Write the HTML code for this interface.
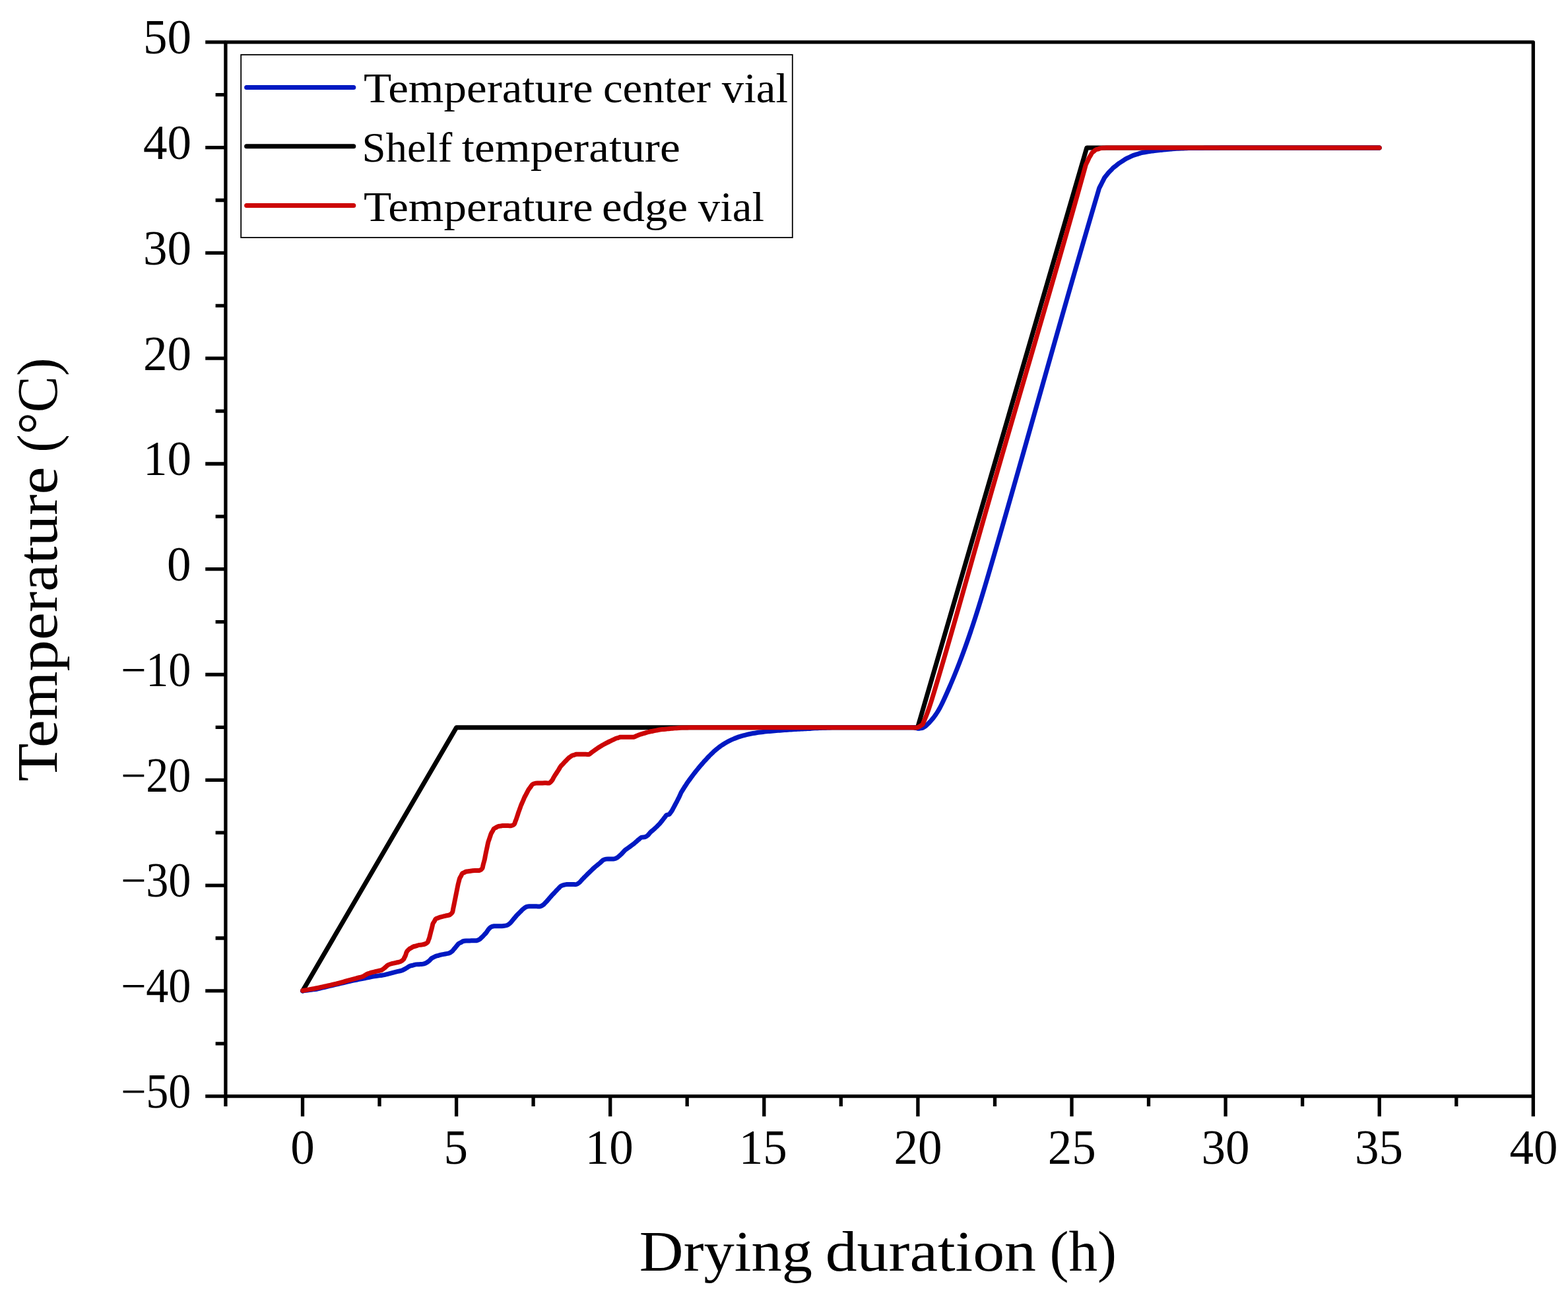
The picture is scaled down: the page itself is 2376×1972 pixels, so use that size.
<!DOCTYPE html>
<html><head><meta charset="utf-8"><title>Temperature vs drying duration</title><style>html,body{margin:0;padding:0;background:#fff;overflow:hidden}svg{display:block}</style></head><body>
<svg width="2376" height="1972" viewBox="0 0 2376 1972">
<rect width="2376" height="1972" fill="#ffffff"/>
<path d="M311.2,63.8H341.9 M311.2,223.6H341.9 M311.2,383.4H341.9 M311.2,543.2H341.9 M311.2,703.0H341.9 M311.2,862.7H341.9 M311.2,1022.5H341.9 M311.2,1182.3H341.9 M311.2,1342.1H341.9 M311.2,1501.9H341.9 M311.2,1661.7H341.9 M326.6,143.7H341.9 M326.6,303.5H341.9 M326.6,463.3H341.9 M326.6,623.1H341.9 M326.6,782.9H341.9 M326.6,942.6H341.9 M326.6,1102.4H341.9 M326.6,1262.2H341.9 M326.6,1422.0H341.9 M326.6,1581.8H341.9 M458.5,1661.7V1692.3 M691.6,1661.7V1692.3 M924.7,1661.7V1692.3 M1157.8,1661.7V1692.3 M1390.9,1661.7V1692.3 M1624.0,1661.7V1692.3 M1857.1,1661.7V1692.3 M2090.2,1661.7V1692.3 M2323.3,1661.7V1692.3 M341.9,1661.7V1677.0 M575.0,1661.7V1677.0 M808.1,1661.7V1677.0 M1041.2,1661.7V1677.0 M1274.3,1661.7V1677.0 M1507.5,1661.7V1677.0 M1740.5,1661.7V1677.0 M1973.6,1661.7V1677.0 M2206.8,1661.7V1677.0" stroke="#000" stroke-width="5.3" fill="none"/>
<g font-family="'Liberation Serif', 'DejaVu Serif', serif" fill="#000">
<text id="yl50" x="217.0" y="81.1" font-size="73">50</text>
<text id="yl40" x="217.0" y="240.9" font-size="73">40</text>
<text id="yl30" x="217.0" y="400.7" font-size="73">30</text>
<text id="yl20" x="217.0" y="560.5" font-size="73">20</text>
<text id="yl10" x="217.0" y="720.3" font-size="73">10</text>
<text id="yl0" x="253.0" y="880.0" font-size="73">0</text>
<text id="yl-10" x="182.9" y="1039.8" font-size="73" textLength="106.5" lengthAdjust="spacingAndGlyphs">−10</text>
<text id="yl-20" x="182.9" y="1199.6" font-size="73" textLength="106.5" lengthAdjust="spacingAndGlyphs">−20</text>
<text id="yl-30" x="182.9" y="1359.4" font-size="73" textLength="106.5" lengthAdjust="spacingAndGlyphs">−30</text>
<text id="yl-40" x="182.9" y="1519.2" font-size="73" textLength="106.5" lengthAdjust="spacingAndGlyphs">−40</text>
<text id="yl-50" x="182.9" y="1679.0" font-size="73" textLength="106.5" lengthAdjust="spacingAndGlyphs">−50</text>
<text id="xl0" x="440.3" y="1763.6" font-size="73">0</text>
<text id="xl5" x="672.5" y="1763.6" font-size="73">5</text>
<text id="xl10" x="886.7" y="1763.6" font-size="73">10</text>
<text id="xl15" x="1119.8" y="1763.6" font-size="73">15</text>
<text id="xl20" x="1354.6" y="1763.6" font-size="73">20</text>
<text id="xl25" x="1587.7" y="1763.6" font-size="73">25</text>
<text id="xl30" x="1820.4" y="1763.6" font-size="73">30</text>
<text id="xl35" x="2053.1" y="1763.6" font-size="73">35</text>
<text id="xl40" x="2287.4" y="1763.6" font-size="73">40</text>
<text id="xt0" x="968.8" y="1925.8" font-size="87" textLength="262.2" lengthAdjust="spacingAndGlyphs">Drying</text>
<text id="xt1" x="1250.7" y="1925.8" font-size="87" textLength="319.3" lengthAdjust="spacingAndGlyphs">duration</text>
<text id="xt2" x="1590.4" y="1925.8" font-size="87" textLength="101.5" lengthAdjust="spacingAndGlyphs">(h)</text>
<text id="yt0" transform="translate(86.0,1184.4) rotate(-90)" x="0" y="0" font-size="87" textLength="477.0" lengthAdjust="spacingAndGlyphs">Temperature</text>
<text id="yt1" transform="translate(86.0,685.8) rotate(-90)" x="0" y="0" font-size="87" textLength="143.2" lengthAdjust="spacingAndGlyphs">(°C)</text>
</g>
<rect x="341.9" y="63.8" width="1981.4" height="1597.9" fill="none" stroke="#000" stroke-width="5.3" stroke-linejoin="round"/>
<path d="M458.5,1501.9 L691.6,1102.8 L1390.5,1102.8 L1646.8,223.9 L2090.2,223.9" stroke="#000" stroke-width="7" fill="none" stroke-linejoin="round" stroke-linecap="round"/>
<path d="M458.70,1502.00 C460.47,1501.77 462.25,1501.53 464.02,1501.30 C465.80,1501.07 467.58,1500.83 469.35,1500.60 C471.13,1500.37 472.90,1500.13 474.68,1499.90 C476.45,1499.67 478.20,1499.53 480.00,1499.20 C481.88,1498.85 483.81,1498.29 485.72,1497.84 C487.63,1497.39 489.53,1496.93 491.44,1496.48 C493.35,1496.03 495.25,1495.57 497.16,1495.12 C499.07,1494.67 500.97,1494.21 502.88,1493.76 C504.79,1493.31 506.69,1492.85 508.60,1492.40 C510.50,1491.95 512.40,1491.52 514.30,1491.08 C516.20,1490.64 518.10,1490.20 520.00,1489.76 C521.90,1489.32 523.80,1488.88 525.70,1488.44 C527.60,1488.00 529.50,1487.56 531.40,1487.12 C533.30,1486.68 535.19,1486.21 537.10,1485.80 C539.01,1485.39 540.92,1485.04 542.83,1484.67 C544.74,1484.29 546.66,1483.91 548.57,1483.53 C550.48,1483.16 552.39,1482.78 554.30,1482.40 C556.20,1482.02 558.10,1481.63 560.00,1481.25 C561.90,1480.87 563.79,1480.43 565.70,1480.10 C567.60,1479.77 569.52,1479.54 571.43,1479.27 C573.34,1478.99 575.26,1478.71 577.17,1478.43 C579.08,1478.16 581.00,1477.98 582.90,1477.60 C584.81,1477.22 586.70,1476.62 588.60,1476.13 C590.50,1475.64 592.40,1475.16 594.30,1474.67 C596.20,1474.18 598.21,1473.65 600.00,1473.20 C601.59,1472.80 603.00,1472.47 604.50,1472.10 C606.00,1471.73 607.51,1471.55 609.00,1471.00 C610.61,1470.41 612.33,1469.41 613.80,1468.60 C615.10,1467.89 616.20,1467.17 617.40,1466.45 C618.60,1465.73 619.67,1464.85 621.00,1464.30 C622.43,1463.71 624.17,1463.50 625.75,1463.10 C627.33,1462.70 628.90,1462.14 630.50,1461.90 C632.07,1461.66 633.67,1461.73 635.25,1461.65 C636.83,1461.57 638.43,1461.67 640.00,1461.40 C641.61,1461.13 643.25,1460.69 644.80,1460.00 C646.43,1459.28 648.24,1458.09 649.50,1457.10 C650.48,1456.33 651.10,1455.53 651.90,1454.75 C652.70,1453.97 653.41,1453.04 654.30,1452.40 C655.17,1451.78 656.20,1451.43 657.15,1450.95 C658.10,1450.47 658.93,1449.92 660.00,1449.50 C661.26,1449.01 662.87,1448.70 664.30,1448.30 C665.73,1447.90 667.19,1447.43 668.60,1447.10 C669.94,1446.78 671.24,1446.59 672.57,1446.33 C673.89,1446.08 675.21,1445.82 676.53,1445.57 C677.86,1445.31 679.17,1445.32 680.50,1444.80 C682.06,1444.19 683.96,1442.97 685.20,1441.90 C686.22,1441.02 686.80,1440.00 687.60,1439.05 C688.40,1438.10 689.20,1437.15 690.00,1436.20 C690.80,1435.25 691.60,1434.30 692.40,1433.35 C693.20,1432.40 693.83,1431.28 694.80,1430.50 C695.80,1429.69 697.17,1429.23 698.35,1428.60 C699.53,1427.97 700.59,1427.13 701.90,1426.70 C703.34,1426.23 705.07,1426.13 706.70,1426.00 C708.36,1425.86 710.08,1425.93 711.77,1425.90 C713.46,1425.87 715.14,1425.83 716.83,1425.80 C718.52,1425.77 720.26,1426.03 721.90,1425.70 C723.55,1425.37 725.40,1424.62 726.70,1423.80 C727.77,1423.12 728.43,1422.20 729.30,1421.40 C730.17,1420.60 731.07,1419.83 731.90,1419.00 C732.73,1418.17 733.50,1417.27 734.30,1416.40 C735.10,1415.53 735.87,1414.83 736.70,1413.80 C737.76,1412.47 738.79,1410.46 740.00,1409.00 C741.16,1407.60 742.33,1406.07 743.80,1405.20 C745.21,1404.36 746.99,1404.04 748.60,1403.80 C750.18,1403.56 751.78,1403.76 753.37,1403.73 C754.96,1403.71 756.54,1403.69 758.13,1403.67 C759.72,1403.64 761.25,1403.78 762.90,1403.60 C764.72,1403.40 766.87,1403.17 768.60,1402.40 C770.33,1401.63 772.05,1400.16 773.30,1399.00 C774.30,1398.07 774.90,1397.10 775.70,1396.15 C776.50,1395.20 777.30,1394.25 778.10,1393.30 C778.90,1392.35 779.70,1391.40 780.50,1390.45 C781.30,1389.50 782.08,1388.49 782.90,1387.60 C783.67,1386.76 784.47,1386.03 785.25,1385.25 C786.03,1384.47 786.81,1383.69 787.60,1382.90 C788.40,1382.10 789.20,1381.30 790.00,1380.50 C790.80,1379.70 791.42,1378.92 792.40,1378.10 C793.67,1377.03 795.45,1375.52 797.10,1374.80 C798.63,1374.14 800.23,1373.97 801.90,1373.80 C803.68,1373.62 805.61,1373.80 807.47,1373.80 C809.32,1373.80 811.18,1373.80 813.03,1373.80 C814.89,1373.80 816.87,1374.22 818.60,1373.80 C820.29,1373.39 822.05,1372.30 823.30,1371.40 C824.30,1370.68 824.90,1369.83 825.70,1369.05 C826.50,1368.27 827.32,1367.54 828.10,1366.70 C828.92,1365.81 829.70,1364.80 830.50,1363.85 C831.30,1362.90 832.10,1361.93 832.90,1361.00 C833.68,1360.10 834.47,1359.23 835.25,1358.35 C836.03,1357.47 836.80,1356.55 837.60,1355.70 C838.38,1354.87 839.21,1354.12 840.00,1353.30 C840.81,1352.46 841.60,1351.57 842.40,1350.70 C843.20,1349.83 844.00,1348.94 844.80,1348.10 C845.58,1347.28 846.37,1346.50 847.15,1345.70 C847.93,1344.90 848.49,1343.97 849.50,1343.30 C850.75,1342.47 852.69,1341.87 854.30,1341.40 C855.85,1340.95 857.42,1340.65 859.00,1340.50 C860.58,1340.35 862.18,1340.50 863.77,1340.50 C865.36,1340.50 866.94,1340.50 868.53,1340.50 C870.12,1340.50 871.77,1340.93 873.30,1340.50 C874.96,1340.04 876.83,1338.64 878.10,1337.60 C879.11,1336.78 879.70,1335.87 880.50,1335.00 C881.30,1334.13 882.10,1333.24 882.90,1332.40 C883.68,1331.58 884.47,1330.80 885.25,1330.00 C886.03,1329.20 886.73,1328.47 887.60,1327.60 C888.67,1326.53 890.00,1325.23 891.20,1324.05 C892.40,1322.87 893.60,1321.66 894.80,1320.50 C895.98,1319.36 897.17,1318.27 898.35,1317.15 C899.53,1316.03 900.70,1314.85 901.90,1313.80 C903.06,1312.79 904.27,1311.90 905.45,1310.95 C906.63,1310.00 907.94,1309.00 909.00,1308.10 C909.89,1307.35 910.60,1306.67 911.40,1305.95 C912.20,1305.23 912.79,1304.40 913.80,1303.80 C915.07,1303.05 916.89,1302.41 918.60,1302.10 C920.45,1301.77 922.57,1302.03 924.55,1302.00 C926.53,1301.97 928.67,1302.27 930.50,1301.90 C932.19,1301.56 933.88,1300.79 935.20,1300.00 C936.33,1299.33 937.10,1298.43 938.05,1297.65 C939.00,1296.87 939.97,1296.18 940.90,1295.30 C941.92,1294.33 942.90,1293.13 943.90,1292.05 C944.90,1290.97 945.81,1289.77 946.90,1288.80 C947.97,1287.85 949.20,1287.13 950.35,1286.30 C951.50,1285.47 952.65,1284.64 953.80,1283.80 C954.95,1282.96 956.10,1282.10 957.25,1281.25 C958.40,1280.40 959.57,1279.60 960.70,1278.70 C961.86,1277.77 962.97,1276.73 964.10,1275.75 C965.23,1274.77 966.26,1273.81 967.50,1272.80 C968.90,1271.66 970.40,1270.00 972.10,1269.30 C973.77,1268.62 976.00,1269.15 977.60,1268.60 C979.01,1268.11 980.26,1267.25 981.30,1266.40 C982.22,1265.64 982.83,1264.70 983.60,1263.85 C984.37,1263.00 985.03,1262.16 985.90,1261.30 C986.91,1260.31 988.20,1259.30 989.35,1258.30 C990.50,1257.30 991.67,1256.35 992.80,1255.30 C993.97,1254.22 995.10,1253.03 996.25,1251.90 C997.40,1250.77 998.65,1249.67 999.70,1248.50 C1000.70,1247.38 1001.53,1246.20 1002.45,1245.05 C1003.37,1243.90 1004.33,1242.71 1005.20,1241.60 C1006.01,1240.57 1006.73,1239.60 1007.50,1238.60 C1008.27,1237.60 1008.76,1236.33 1009.80,1235.60 C1010.96,1234.79 1013.21,1234.98 1014.30,1234.20 C1015.19,1233.57 1015.53,1232.53 1016.15,1231.70 C1016.77,1230.87 1017.41,1230.13 1018.00,1229.20 C1018.67,1228.14 1019.27,1226.83 1019.90,1225.65 C1020.53,1224.47 1021.16,1223.30 1021.80,1222.10 C1022.46,1220.87 1023.13,1219.60 1023.80,1218.35 C1024.47,1217.10 1025.16,1215.83 1025.80,1214.60 C1026.41,1213.43 1026.97,1212.30 1027.55,1211.15 C1028.13,1210.00 1028.76,1208.83 1029.30,1207.70 C1029.81,1206.63 1030.23,1205.60 1030.70,1204.55 C1031.17,1203.50 1031.53,1202.48 1032.10,1201.40 C1032.74,1200.18 1033.63,1198.90 1034.40,1197.65 C1035.17,1196.40 1035.93,1195.13 1036.70,1193.90 C1037.46,1192.69 1038.23,1191.52 1039.00,1190.33 C1039.77,1189.14 1040.50,1187.93 1041.30,1186.76 C1042.10,1185.58 1042.97,1184.44 1043.80,1183.29 C1044.63,1182.13 1045.46,1180.95 1046.30,1179.81 C1047.13,1178.69 1047.97,1177.60 1048.80,1176.50 C1049.63,1175.39 1050.46,1174.27 1051.30,1173.18 C1052.13,1172.11 1052.97,1171.07 1053.80,1170.01 C1054.63,1168.95 1055.46,1167.88 1056.30,1166.84 C1057.13,1165.82 1057.97,1164.83 1058.80,1163.82 C1059.63,1162.81 1060.46,1161.79 1061.30,1160.80 C1062.13,1159.82 1062.97,1158.87 1063.80,1157.91 C1064.63,1156.95 1065.46,1155.98 1066.30,1155.03 C1067.13,1154.10 1067.97,1153.20 1068.80,1152.29 C1069.63,1151.37 1070.46,1150.44 1071.30,1149.55 C1072.13,1148.66 1072.97,1147.82 1073.80,1146.96 C1074.63,1146.09 1075.46,1145.21 1076.30,1144.37 C1077.13,1143.54 1077.97,1142.76 1078.80,1141.96 C1079.63,1141.16 1080.46,1140.33 1081.30,1139.55 C1082.12,1138.80 1082.97,1138.10 1083.80,1137.37 C1084.63,1136.64 1085.46,1135.87 1086.30,1135.18 C1087.12,1134.50 1087.97,1133.89 1088.80,1133.24 C1089.63,1132.59 1090.46,1131.91 1091.30,1131.30 C1092.12,1130.70 1092.97,1130.17 1093.80,1129.61 C1094.63,1129.05 1095.31,1128.54 1096.30,1127.92 C1097.67,1127.05 1099.62,1125.90 1101.30,1124.97 C1102.95,1124.06 1104.62,1123.20 1106.30,1122.39 C1107.96,1121.59 1109.62,1120.83 1111.30,1120.12 C1112.96,1119.41 1114.63,1118.75 1116.30,1118.12 C1117.96,1117.50 1119.63,1116.92 1121.30,1116.38 C1122.96,1115.84 1124.63,1115.34 1126.30,1114.87 C1127.96,1114.40 1129.63,1113.97 1131.30,1113.56 C1132.96,1113.16 1134.63,1112.79 1136.30,1112.45 C1137.96,1112.10 1139.63,1111.79 1141.30,1111.49 C1142.96,1111.20 1144.63,1110.93 1146.30,1110.68 C1147.97,1110.43 1149.63,1110.20 1151.30,1109.99 C1152.97,1109.78 1154.63,1109.58 1156.30,1109.40 C1157.97,1109.21 1159.63,1109.04 1161.30,1108.88 C1162.97,1108.71 1164.63,1108.56 1166.30,1108.41 C1167.97,1108.26 1169.63,1108.12 1171.30,1107.98 C1172.97,1107.84 1174.63,1107.70 1176.30,1107.56 C1177.97,1107.43 1179.63,1107.30 1181.30,1107.17 C1182.97,1107.04 1184.63,1106.91 1186.30,1106.79 C1187.97,1106.67 1189.63,1106.55 1191.30,1106.43 C1192.97,1106.31 1194.63,1106.20 1196.30,1106.09 C1197.97,1105.98 1199.63,1105.87 1201.30,1105.77 C1202.97,1105.66 1204.63,1105.56 1206.30,1105.46 C1207.97,1105.37 1209.63,1105.27 1211.30,1105.18 C1212.97,1105.09 1214.63,1105.00 1216.30,1104.91 C1217.97,1104.83 1219.63,1104.75 1221.30,1104.67 C1222.97,1104.59 1224.63,1104.56 1226.30,1104.44 C1227.97,1104.32 1229.63,1104.06 1231.30,1103.95 C1232.97,1103.83 1234.63,1103.81 1236.30,1103.75 C1237.97,1103.68 1239.63,1103.61 1241.30,1103.55 C1242.97,1103.48 1244.63,1103.41 1246.30,1103.35 C1247.97,1103.28 1249.63,1103.21 1251.30,1103.15 C1252.97,1103.08 1254.63,1103.01 1256.30,1102.95 C1257.97,1102.89 1259.63,1102.82 1261.30,1102.80 C1262.97,1102.78 1264.63,1102.80 1266.30,1102.80 C1267.97,1102.80 1269.63,1102.80 1271.30,1102.80 C1272.97,1102.80 1274.63,1102.80 1276.30,1102.80 C1277.97,1102.80 1279.63,1102.80 1281.30,1102.80 C1282.97,1102.80 1284.63,1102.80 1286.30,1102.80 C1287.97,1102.80 1289.63,1102.80 1291.30,1102.80 C1292.97,1102.80 1294.76,1102.80 1296.30,1102.80 C1297.63,1102.80 1298.64,1102.80 1300.00,1102.80 C1301.69,1102.80 1303.78,1102.80 1305.67,1102.80 C1307.56,1102.80 1309.44,1102.80 1311.33,1102.80 C1313.22,1102.80 1315.11,1102.80 1317.00,1102.80 C1318.89,1102.80 1320.78,1102.80 1322.67,1102.80 C1324.56,1102.80 1326.44,1102.80 1328.33,1102.80 C1330.22,1102.80 1332.11,1102.80 1334.00,1102.80 C1335.89,1102.80 1337.78,1102.80 1339.67,1102.80 C1341.56,1102.80 1343.44,1102.80 1345.33,1102.80 C1347.22,1102.80 1349.11,1102.80 1351.00,1102.80 C1352.89,1102.80 1354.78,1102.80 1356.67,1102.80 C1358.56,1102.80 1360.44,1102.80 1362.33,1102.80 C1364.22,1102.80 1366.11,1102.80 1368.00,1102.80 C1369.89,1102.80 1371.78,1102.80 1373.67,1102.80 C1375.56,1102.80 1377.44,1102.80 1379.33,1102.80 C1381.22,1102.80 1383.36,1102.63 1385.00,1102.80 C1386.28,1102.93 1387.27,1103.27 1388.40,1103.50 C1389.53,1103.73 1390.69,1104.16 1391.80,1104.20 C1392.84,1104.24 1393.83,1103.93 1394.85,1103.80 C1395.87,1103.67 1396.84,1103.76 1397.90,1103.40 C1399.22,1102.95 1400.80,1101.92 1402.06,1101.00 C1403.26,1100.11 1404.26,1099.01 1405.31,1098.00 C1406.34,1097.01 1407.34,1096.01 1408.30,1095.00 C1409.25,1094.01 1410.17,1093.01 1411.05,1092.00 C1411.93,1091.01 1412.77,1090.01 1413.58,1089.00 C1414.39,1088.01 1415.16,1087.01 1415.91,1086.00 C1416.65,1085.01 1417.36,1084.01 1418.05,1083.00 C1418.73,1082.01 1419.39,1081.01 1420.03,1080.00 C1420.66,1079.01 1421.27,1078.00 1421.87,1077.00 C1422.46,1076.00 1423.02,1075.00 1423.58,1074.00 C1424.13,1073.00 1424.66,1072.00 1425.18,1071.00 C1425.70,1070.00 1426.21,1069.00 1426.71,1068.00 C1427.20,1067.00 1427.68,1066.00 1428.16,1065.00 C1428.64,1064.00 1429.11,1063.00 1429.57,1062.00 C1430.04,1061.00 1430.50,1060.00 1430.96,1059.00 C1431.41,1058.00 1431.87,1057.00 1432.32,1056.00 C1432.78,1055.00 1433.23,1054.00 1433.68,1053.00 C1434.13,1052.00 1434.58,1051.00 1435.02,1050.00 C1435.47,1049.00 1435.91,1048.00 1436.35,1047.00 C1436.79,1046.00 1437.23,1045.00 1437.66,1044.00 C1438.10,1043.00 1438.53,1042.00 1438.97,1041.00 C1439.40,1040.00 1439.83,1039.00 1440.25,1038.00 C1440.68,1037.00 1441.11,1036.00 1441.53,1035.00 C1441.96,1034.00 1442.38,1033.00 1442.80,1032.00 C1443.22,1031.00 1443.63,1030.00 1444.05,1029.00 C1444.46,1028.00 1444.88,1027.00 1445.29,1026.00 C1445.70,1025.00 1446.11,1024.00 1446.52,1023.00 C1446.92,1022.00 1447.33,1021.00 1447.73,1020.00 C1448.14,1019.00 1448.54,1018.00 1448.94,1017.00 C1449.34,1016.00 1449.74,1015.00 1450.13,1014.00 C1450.53,1013.00 1450.92,1012.00 1451.32,1011.00 C1451.71,1010.00 1452.10,1009.00 1452.49,1008.00 C1452.88,1007.00 1453.27,1006.00 1453.65,1005.00 C1454.04,1004.00 1454.42,1003.00 1454.80,1002.00 C1455.18,1001.00 1455.57,1000.00 1455.94,999.00 C1456.32,998.00 1456.70,997.00 1457.08,996.00 C1457.45,995.00 1457.82,994.00 1458.20,993.00 C1458.57,992.00 1458.94,991.00 1459.31,990.00 C1459.68,989.00 1460.04,988.00 1460.41,987.00 C1460.78,986.00 1461.14,985.00 1461.50,984.00 C1461.86,983.00 1462.23,982.00 1462.59,981.00 C1462.95,980.00 1463.30,979.00 1463.66,978.00 C1464.02,977.00 1464.37,976.00 1464.73,975.00 C1465.08,974.00 1465.43,973.00 1465.78,972.00 C1466.13,971.00 1466.48,970.00 1466.83,969.00 C1467.18,968.00 1467.53,967.00 1467.87,966.00 C1468.22,965.00 1468.56,964.00 1468.91,963.00 C1469.25,962.00 1469.59,961.00 1469.93,960.00 C1470.27,959.00 1470.61,958.00 1470.95,957.00 C1471.29,956.00 1471.62,955.00 1471.96,954.00 C1472.29,953.00 1472.63,952.00 1472.96,951.00 C1473.30,950.00 1473.63,949.00 1473.96,948.00 C1474.29,947.00 1474.62,946.00 1474.95,945.00 C1475.28,944.00 1475.60,943.00 1475.93,942.00 C1476.26,941.00 1476.58,940.00 1476.91,939.00 C1477.23,938.00 1477.55,937.00 1477.88,936.00 C1478.20,935.00 1478.52,934.00 1478.84,933.00 C1479.16,932.00 1479.48,931.00 1479.80,930.00 C1480.11,929.00 1480.43,928.00 1480.75,927.00 C1481.07,926.00 1481.38,925.00 1481.70,924.00 C1482.01,923.00 1482.32,922.00 1482.64,921.00 C1482.95,920.00 1483.26,919.00 1483.57,918.00 C1483.88,917.00 1484.19,916.00 1484.50,915.00 C1484.81,914.00 1485.12,913.00 1485.43,912.00 C1485.74,911.00 1486.05,910.00 1486.35,909.00 C1486.66,908.00 1486.97,907.00 1487.27,906.00 C1487.58,905.00 1487.88,904.00 1488.18,903.00 C1488.49,902.00 1488.79,901.00 1489.09,900.00 C1489.40,899.00 1489.70,898.00 1490.00,897.00 C1490.30,896.00 1490.60,895.00 1490.90,894.00 C1491.20,893.00 1491.50,892.00 1491.80,891.00 C1492.10,890.00 1492.40,889.00 1492.70,888.00 C1492.99,887.00 1493.29,886.00 1493.59,885.00 C1493.89,884.00 1494.18,883.00 1494.48,882.00 C1494.77,881.00 1495.07,880.00 1495.37,879.00 C1495.66,878.00 1495.96,877.00 1496.25,876.00 C1496.55,875.00 1496.84,874.00 1497.13,873.00 C1497.43,872.00 1497.72,871.00 1498.01,870.00 C1498.31,869.00 1498.60,868.00 1498.89,867.00 C1499.18,866.00 1499.48,865.00 1499.77,864.00 C1500.06,863.00 1500.35,862.00 1500.64,861.00 C1500.94,860.00 1501.23,859.00 1501.52,858.00 C1501.81,857.00 1502.10,856.00 1502.39,855.00 C1502.68,854.00 1502.97,853.00 1503.26,852.00 C1503.55,851.00 1503.85,850.00 1504.14,849.00 C1504.43,848.00 1504.72,847.00 1505.01,846.00 C1505.30,845.00 1505.59,844.00 1505.88,843.00 C1506.17,842.00 1506.46,841.00 1506.75,840.00 C1507.04,839.00 1507.33,838.00 1507.62,837.00 C1507.91,836.00 1508.19,835.00 1508.48,834.00 C1508.77,833.00 1509.06,832.00 1509.35,831.00 C1509.64,830.00 1509.93,829.00 1510.22,828.00 C1510.51,827.00 1510.80,826.00 1511.09,825.00 C1511.38,824.00 1511.66,823.00 1511.95,822.00 C1512.24,821.00 1512.53,820.00 1512.82,819.00 C1513.11,818.00 1513.40,817.00 1513.68,816.00 C1513.97,815.00 1514.26,814.00 1514.55,813.00 C1514.84,812.00 1515.13,811.00 1515.41,810.00 C1515.70,809.00 1515.99,808.00 1516.28,807.00 C1516.57,806.00 1516.85,805.00 1517.14,804.00 C1517.43,803.00 1517.72,802.00 1518.00,801.00 C1518.29,800.00 1518.58,799.00 1518.87,798.00 C1519.15,797.00 1519.44,796.00 1519.73,795.00 C1520.02,794.00 1520.30,793.00 1520.59,792.00 C1520.88,791.00 1521.16,790.00 1521.45,789.00 C1521.74,788.00 1522.03,787.00 1522.31,786.00 C1522.60,785.00 1522.89,784.00 1523.17,783.00 C1523.46,782.00 1523.75,781.00 1524.03,780.00 C1524.32,779.00 1524.60,778.00 1524.89,777.00 C1525.18,776.00 1525.46,775.00 1525.75,774.00 C1526.04,773.00 1526.32,772.00 1526.61,771.00 C1526.90,770.00 1527.18,769.00 1527.47,768.00 C1527.75,767.00 1528.04,766.00 1528.32,765.00 C1528.61,764.00 1528.90,763.00 1529.18,762.00 C1529.47,761.00 1529.75,760.00 1530.04,759.00 C1530.33,758.00 1530.61,757.00 1530.90,756.00 C1531.18,755.00 1531.47,754.00 1531.75,753.00 C1532.04,752.00 1532.32,751.00 1532.61,750.00 C1532.89,749.00 1533.18,748.00 1533.46,747.00 C1533.75,746.00 1534.03,745.00 1534.32,744.00 C1534.60,743.00 1534.89,742.00 1535.17,741.00 C1535.46,740.00 1535.74,739.00 1536.03,738.00 C1536.31,737.00 1536.60,736.00 1536.88,735.00 C1537.17,734.00 1537.45,733.00 1537.74,732.00 C1538.02,731.00 1538.31,730.00 1538.59,729.00 C1538.88,728.00 1539.16,727.00 1539.44,726.00 C1539.73,725.00 1540.01,724.00 1540.30,723.00 C1540.58,722.00 1540.87,721.00 1541.15,720.00 C1541.43,719.00 1541.72,718.00 1542.00,717.00 C1542.29,716.00 1542.57,715.00 1542.86,714.00 C1543.14,713.00 1543.42,712.00 1543.71,711.00 C1543.99,710.00 1544.28,709.00 1544.56,708.00 C1544.84,707.00 1545.13,706.00 1545.41,705.00 C1545.69,704.00 1545.98,703.00 1546.26,702.00 C1546.55,701.00 1546.83,700.00 1547.11,699.00 C1547.40,698.00 1547.68,697.00 1547.96,696.00 C1548.25,695.00 1548.53,694.00 1548.82,693.00 C1549.10,692.00 1549.38,691.00 1549.67,690.00 C1549.95,689.00 1550.23,688.00 1550.52,687.00 C1550.80,686.00 1551.08,685.00 1551.37,684.00 C1551.65,683.00 1551.93,682.00 1552.22,681.00 C1552.50,680.00 1552.78,679.00 1553.07,678.00 C1553.35,677.00 1553.63,676.00 1553.92,675.00 C1554.20,674.00 1554.48,673.00 1554.77,672.00 C1555.05,671.00 1555.33,670.00 1555.61,669.00 C1555.90,668.00 1556.18,667.00 1556.46,666.00 C1556.75,665.00 1557.03,664.00 1557.31,663.00 C1557.60,662.00 1557.88,661.00 1558.16,660.00 C1558.44,659.00 1558.73,658.00 1559.01,657.00 C1559.29,656.00 1559.58,655.00 1559.86,654.00 C1560.14,653.00 1560.42,652.00 1560.71,651.00 C1560.99,650.00 1561.27,649.00 1561.56,648.00 C1561.84,647.00 1562.12,646.00 1562.40,645.00 C1562.69,644.00 1562.97,643.00 1563.25,642.00 C1563.54,641.00 1563.82,640.00 1564.10,639.00 C1564.38,638.00 1564.67,637.00 1564.95,636.00 C1565.23,635.00 1565.51,634.00 1565.80,633.00 C1566.08,632.00 1566.36,631.00 1566.65,630.00 C1566.93,629.00 1567.21,628.00 1567.49,627.00 C1567.78,626.00 1568.06,625.00 1568.34,624.00 C1568.62,623.00 1568.91,622.00 1569.19,621.00 C1569.47,620.00 1569.75,619.00 1570.04,618.00 C1570.32,617.00 1570.60,616.00 1570.88,615.00 C1571.17,614.00 1571.45,613.00 1571.73,612.00 C1572.01,611.00 1572.30,610.00 1572.58,609.00 C1572.86,608.00 1573.15,607.00 1573.43,606.00 C1573.71,605.00 1573.99,604.00 1574.28,603.00 C1574.56,602.00 1574.84,601.00 1575.12,600.00 C1575.41,599.00 1575.69,598.00 1575.97,597.00 C1576.25,596.00 1576.54,595.00 1576.82,594.00 C1577.10,593.00 1577.38,592.00 1577.67,591.00 C1577.95,590.00 1578.23,589.00 1578.52,588.00 C1578.80,587.00 1579.08,586.00 1579.36,585.00 C1579.65,584.00 1579.93,583.00 1580.21,582.00 C1580.49,581.00 1580.78,580.00 1581.06,579.00 C1581.34,578.00 1581.63,577.00 1581.91,576.00 C1582.19,575.00 1582.47,574.00 1582.76,573.00 C1583.04,572.00 1583.32,571.00 1583.61,570.00 C1583.89,569.00 1584.17,568.00 1584.45,567.00 C1584.74,566.00 1585.02,565.00 1585.30,564.00 C1585.59,563.00 1585.87,562.00 1586.15,561.00 C1586.43,560.00 1586.72,559.00 1587.00,558.00 C1587.28,557.00 1587.57,556.00 1587.85,555.00 C1588.13,554.00 1588.42,553.00 1588.70,552.00 C1588.98,551.00 1589.26,550.00 1589.55,549.00 C1589.83,548.00 1590.11,547.00 1590.40,546.00 C1590.68,545.00 1590.96,544.00 1591.25,543.00 C1591.53,542.00 1591.81,541.00 1592.10,540.00 C1592.38,539.00 1592.66,538.00 1592.95,537.00 C1593.23,536.00 1593.51,535.00 1593.80,534.00 C1594.08,533.00 1594.36,532.00 1594.65,531.00 C1594.93,530.00 1595.21,529.00 1595.50,528.00 C1595.78,527.00 1596.06,526.00 1596.35,525.00 C1596.63,524.00 1596.92,523.00 1597.20,522.00 C1597.48,521.00 1597.77,520.00 1598.05,519.00 C1598.33,518.00 1598.62,517.00 1598.90,516.00 C1599.19,515.00 1599.47,514.00 1599.75,513.00 C1600.04,512.00 1600.32,511.00 1600.61,510.00 C1600.89,509.00 1601.17,508.00 1601.46,507.00 C1601.74,506.00 1602.03,505.00 1602.31,504.00 C1602.59,503.00 1602.88,502.00 1603.16,501.00 C1603.45,500.00 1603.73,499.00 1604.02,498.00 C1604.30,497.00 1604.58,496.00 1604.87,495.00 C1605.15,494.00 1605.44,493.00 1605.72,492.00 C1606.01,491.00 1606.29,490.00 1606.58,489.00 C1606.86,488.00 1607.15,487.00 1607.43,486.00 C1607.71,485.00 1608.00,484.00 1608.28,483.00 C1608.57,482.00 1608.85,481.00 1609.14,480.00 C1609.42,479.00 1609.71,478.00 1609.99,477.00 C1610.28,476.00 1610.56,475.00 1610.85,474.00 C1611.13,473.00 1611.42,472.00 1611.71,471.00 C1611.99,470.00 1612.28,469.00 1612.56,468.00 C1612.85,467.00 1613.13,466.00 1613.42,465.00 C1613.70,464.00 1613.99,463.00 1614.27,462.00 C1614.56,461.00 1614.85,460.00 1615.13,459.00 C1615.42,458.00 1615.70,457.00 1615.99,456.00 C1616.27,455.00 1616.56,454.00 1616.85,453.00 C1617.13,452.00 1617.42,451.00 1617.70,450.00 C1617.99,449.00 1618.28,448.00 1618.56,447.00 C1618.85,446.00 1619.14,445.00 1619.42,444.00 C1619.71,443.00 1620.00,442.00 1620.28,441.00 C1620.57,440.00 1620.86,439.00 1621.14,438.00 C1621.43,437.00 1621.72,436.00 1622.00,435.00 C1622.29,434.00 1622.58,433.00 1622.86,432.00 C1623.15,431.00 1623.44,430.00 1623.72,429.00 C1624.01,428.00 1624.30,427.00 1624.59,426.00 C1624.87,425.00 1625.16,424.00 1625.45,423.00 C1625.74,422.00 1626.02,421.00 1626.31,420.00 C1626.60,419.00 1626.89,418.00 1627.17,417.00 C1627.46,416.00 1627.75,415.00 1628.04,414.00 C1628.32,413.00 1628.61,412.00 1628.90,411.00 C1629.19,410.00 1629.48,409.00 1629.76,408.00 C1630.05,407.00 1630.34,406.00 1630.63,405.00 C1630.92,404.00 1631.21,403.00 1631.50,402.00 C1631.78,401.00 1632.07,400.00 1632.36,399.00 C1632.65,398.00 1632.94,397.00 1633.23,396.00 C1633.52,395.00 1633.81,394.00 1634.09,393.00 C1634.38,392.00 1634.67,391.00 1634.96,390.00 C1635.25,389.00 1635.54,388.00 1635.83,387.00 C1636.12,386.00 1636.41,385.00 1636.70,384.00 C1636.99,383.00 1637.28,382.00 1637.57,381.00 C1637.86,380.00 1638.15,379.00 1638.44,378.00 C1638.73,377.00 1639.02,376.00 1639.31,375.00 C1639.60,374.00 1639.89,373.00 1640.18,372.00 C1640.47,371.00 1640.76,370.00 1641.05,369.00 C1641.34,368.00 1641.63,367.00 1641.92,366.00 C1642.21,365.00 1642.50,364.00 1642.80,363.00 C1643.09,362.00 1643.38,361.00 1643.67,360.00 C1643.96,359.00 1644.25,358.00 1644.54,357.00 C1644.83,356.00 1645.13,355.00 1645.42,354.00 C1645.71,353.00 1646.00,352.00 1646.29,351.00 C1646.58,350.00 1646.88,349.00 1647.17,348.00 C1647.46,347.00 1647.75,346.00 1648.05,345.00 C1648.34,344.00 1648.63,343.00 1648.92,342.00 C1649.21,341.00 1649.51,340.00 1649.80,339.00 C1650.09,338.00 1650.39,337.00 1650.68,336.00 C1650.97,335.00 1651.26,334.00 1651.56,333.00 C1651.85,332.00 1652.14,331.00 1652.44,330.00 C1652.73,329.00 1653.02,328.00 1653.32,327.00 C1653.61,326.00 1653.91,325.00 1654.20,324.00 C1654.49,323.00 1654.79,322.00 1655.08,321.00 C1655.38,320.00 1655.67,319.00 1655.96,318.00 C1656.26,317.00 1656.55,316.00 1656.85,315.00 C1657.14,314.00 1657.44,313.00 1657.73,312.00 C1658.03,311.00 1658.32,310.00 1658.62,309.00 C1658.91,308.00 1659.21,307.00 1659.50,306.00 C1659.80,305.00 1660.09,304.00 1660.39,303.00 C1660.68,302.00 1660.98,301.00 1661.27,300.00 C1661.57,299.00 1661.87,298.00 1662.16,297.00 C1662.46,296.00 1662.76,295.00 1663.05,294.00 C1663.35,293.00 1663.64,292.00 1663.94,291.00 C1664.24,290.00 1664.53,289.00 1664.83,288.00 C1665.13,287.00 1665.29,286.08 1665.72,285.00 C1666.28,283.61 1667.36,281.84 1668.10,280.40 C1668.75,279.12 1669.32,277.98 1669.93,276.77 C1670.54,275.56 1671.16,274.34 1671.77,273.13 C1672.38,271.92 1672.83,270.71 1673.60,269.50 C1674.48,268.13 1675.77,266.77 1676.85,265.40 C1677.93,264.03 1678.95,262.59 1680.10,261.30 C1681.22,260.04 1682.47,258.93 1683.65,257.75 C1684.83,256.57 1685.94,255.32 1687.20,254.20 C1688.49,253.05 1689.93,252.03 1691.30,250.95 C1692.67,249.87 1694.05,248.67 1695.40,247.70 C1696.63,246.82 1697.82,246.12 1699.03,245.33 C1700.24,244.54 1701.46,243.76 1702.67,242.97 C1703.88,242.18 1705.06,241.29 1706.30,240.60 C1707.49,239.94 1708.72,239.47 1709.93,238.90 C1711.14,238.33 1712.36,237.77 1713.57,237.20 C1714.78,236.63 1715.92,235.99 1717.20,235.50 C1718.55,234.98 1720.04,234.63 1721.47,234.20 C1722.89,233.77 1724.31,233.33 1725.73,232.90 C1727.16,232.47 1728.51,231.95 1730.00,231.60 C1731.59,231.22 1733.33,231.02 1735.00,230.73 C1736.67,230.44 1738.33,230.16 1740.00,229.87 C1741.67,229.58 1743.37,229.23 1745.00,229.00 C1746.54,228.79 1748.00,228.68 1749.50,228.53 C1751.00,228.37 1752.50,228.21 1754.00,228.05 C1755.50,227.89 1757.00,227.73 1758.50,227.57 C1760.00,227.42 1761.41,227.26 1763.00,227.10 C1764.78,226.92 1766.78,226.74 1768.67,226.57 C1770.56,226.39 1772.44,226.21 1774.33,226.03 C1776.22,225.86 1778.15,225.63 1780.00,225.50 C1781.78,225.38 1783.50,225.35 1785.25,225.28 C1787.00,225.20 1788.75,225.12 1790.50,225.05 C1792.25,224.97 1794.00,224.90 1795.75,224.82 C1797.50,224.75 1799.23,224.65 1801.00,224.60 C1802.80,224.55 1804.63,224.56 1806.44,224.54 C1808.26,224.53 1810.07,224.51 1811.89,224.49 C1813.70,224.47 1815.52,224.45 1817.33,224.43 C1819.15,224.41 1820.96,224.40 1822.78,224.38 C1824.59,224.36 1826.41,224.34 1828.22,224.32 C1830.04,224.30 1831.85,224.29 1833.67,224.27 C1835.48,224.25 1837.30,224.23 1839.11,224.21 C1840.93,224.19 1842.74,224.17 1844.56,224.16 C1846.37,224.14 1848.15,224.11 1850.00,224.10 C1851.92,224.09 1853.90,224.10 1855.85,224.10 C1857.80,224.09 1859.76,224.09 1861.71,224.09 C1863.66,224.09 1865.61,224.09 1867.56,224.09 C1869.51,224.08 1871.46,224.08 1873.41,224.08 C1875.37,224.08 1877.32,224.08 1879.27,224.08 C1881.22,224.07 1883.17,224.07 1885.12,224.07 C1887.07,224.07 1889.02,224.07 1890.98,224.07 C1892.93,224.06 1894.88,224.06 1896.83,224.06 C1898.78,224.06 1900.73,224.06 1902.68,224.06 C1904.63,224.05 1906.59,224.05 1908.54,224.05 C1910.49,224.05 1912.44,224.05 1914.39,224.05 C1916.34,224.04 1918.29,224.04 1920.24,224.04 C1922.20,224.04 1924.15,224.04 1926.10,224.04 C1928.05,224.03 1930.00,224.03 1931.95,224.03 C1933.90,224.03 1935.85,224.03 1937.80,224.03 C1939.76,224.03 1941.71,224.02 1943.66,224.02 C1945.61,224.02 1947.56,224.02 1949.51,224.02 C1951.46,224.02 1953.41,224.01 1955.37,224.01 C1957.32,224.01 1959.27,224.01 1961.22,224.01 C1963.17,224.01 1965.12,224.00 1967.07,224.00 C1969.02,224.00 1970.98,224.00 1972.93,224.00 C1974.88,224.00 1976.83,223.99 1978.78,223.99 C1980.73,223.99 1982.68,223.99 1984.63,223.99 C1986.59,223.99 1988.54,223.98 1990.49,223.98 C1992.44,223.98 1994.39,223.98 1996.34,223.98 C1998.29,223.98 2000.24,223.97 2002.20,223.97 C2004.15,223.97 2006.10,223.97 2008.05,223.97 C2010.00,223.97 2011.95,223.97 2013.90,223.96 C2015.85,223.96 2017.80,223.96 2019.76,223.96 C2021.71,223.96 2023.66,223.96 2025.61,223.95 C2027.56,223.95 2029.51,223.95 2031.46,223.95 C2033.41,223.95 2035.37,223.95 2037.32,223.94 C2039.27,223.94 2041.22,223.94 2043.17,223.94 C2045.12,223.94 2047.07,223.94 2049.02,223.93 C2050.98,223.93 2052.93,223.93 2054.88,223.93 C2056.83,223.93 2058.78,223.93 2060.73,223.92 C2062.68,223.92 2064.63,223.92 2066.59,223.92 C2068.54,223.92 2070.49,223.92 2072.44,223.91 C2074.39,223.91 2076.34,223.91 2078.29,223.91 C2080.24,223.91 2082.20,223.91 2084.15,223.90 C2086.10,223.90 2088.05,223.90 2090.00,223.90" stroke="#0019c2" stroke-width="7" fill="none" stroke-linejoin="round" stroke-linecap="round"/>
<path d="M458.70,1501.50 C460.48,1501.19 462.25,1500.88 464.02,1500.58 C465.80,1500.27 467.57,1499.96 469.35,1499.65 C471.12,1499.34 472.90,1499.03 474.68,1498.72 C476.45,1498.42 478.20,1498.16 480.00,1497.80 C481.88,1497.43 483.81,1496.95 485.72,1496.52 C487.63,1496.09 489.53,1495.67 491.44,1495.24 C493.35,1494.81 495.25,1494.39 497.16,1493.96 C499.07,1493.53 500.97,1493.11 502.88,1492.68 C504.79,1492.25 506.70,1491.87 508.60,1491.40 C510.51,1490.93 512.40,1490.36 514.30,1489.84 C516.20,1489.32 518.10,1488.80 520.00,1488.28 C521.90,1487.76 523.80,1487.24 525.70,1486.72 C527.60,1486.20 529.50,1485.68 531.40,1485.16 C533.30,1484.64 535.35,1484.07 537.10,1483.60 C538.59,1483.20 539.86,1482.87 541.23,1482.50 C542.61,1482.13 543.99,1481.77 545.37,1481.40 C546.74,1481.03 548.20,1480.83 549.50,1480.30 C550.78,1479.78 551.90,1478.93 553.10,1478.25 C554.30,1477.57 555.48,1476.75 556.70,1476.20 C557.86,1475.68 559.07,1475.40 560.25,1475.00 C561.43,1474.60 562.52,1474.16 563.80,1473.80 C565.26,1473.39 566.98,1473.07 568.57,1472.70 C570.16,1472.33 571.74,1471.97 573.33,1471.60 C574.92,1471.23 576.57,1471.18 578.10,1470.50 C579.77,1469.75 581.61,1468.13 582.90,1467.10 C583.85,1466.35 584.47,1465.70 585.25,1465.00 C586.03,1464.30 586.61,1463.51 587.60,1462.90 C588.86,1462.12 590.78,1461.51 592.40,1461.00 C593.97,1460.50 595.58,1460.24 597.17,1459.87 C598.76,1459.49 600.34,1459.11 601.93,1458.73 C603.52,1458.36 605.18,1458.28 606.70,1457.60 C608.35,1456.86 610.36,1455.50 611.40,1454.30 C612.18,1453.41 612.37,1452.40 612.85,1451.45 C613.33,1450.50 613.90,1449.57 614.30,1448.60 C614.69,1447.66 614.93,1446.70 615.25,1445.75 C615.57,1444.80 615.63,1443.89 616.20,1442.90 C616.99,1441.54 618.74,1439.64 620.00,1438.60 C620.96,1437.81 621.90,1437.47 622.85,1436.90 C623.80,1436.33 624.59,1435.68 625.70,1435.20 C627.05,1434.61 628.87,1434.27 630.45,1433.80 C632.03,1433.33 633.60,1432.72 635.20,1432.40 C636.78,1432.09 638.41,1432.21 640.00,1431.90 C641.61,1431.58 643.40,1431.19 644.80,1430.50 C646.06,1429.88 647.35,1429.08 648.10,1428.10 C648.78,1427.21 648.90,1426.03 649.30,1425.00 C649.70,1423.97 650.15,1423.00 650.50,1421.90 C650.88,1420.71 651.13,1419.37 651.45,1418.10 C651.77,1416.83 652.08,1415.55 652.40,1414.30 C652.71,1413.08 653.03,1411.90 653.35,1410.70 C653.67,1409.50 654.00,1408.30 654.30,1407.10 C654.60,1405.91 654.87,1404.73 655.15,1403.55 C655.43,1402.37 655.53,1401.15 656.00,1400.00 C656.50,1398.78 657.43,1397.63 658.15,1396.45 C658.87,1395.27 659.33,1393.73 660.30,1392.90 C661.22,1392.12 662.60,1391.97 663.75,1391.50 C664.90,1391.03 665.94,1390.51 667.20,1390.10 C668.65,1389.63 670.40,1389.32 672.00,1388.93 C673.60,1388.54 675.20,1388.16 676.80,1387.77 C678.40,1387.38 680.17,1387.40 681.60,1386.60 C683.13,1385.74 684.81,1384.06 685.60,1382.60 C686.27,1381.36 686.17,1379.93 686.45,1378.60 C686.73,1377.27 687.00,1376.05 687.30,1374.60 C687.66,1372.86 688.07,1370.77 688.45,1368.85 C688.83,1366.93 689.22,1365.02 689.60,1363.10 C689.98,1361.18 690.37,1359.27 690.75,1357.35 C691.13,1355.43 691.52,1353.51 691.90,1351.60 C692.28,1349.70 692.67,1347.80 693.05,1345.90 C693.43,1344.00 693.79,1341.96 694.20,1340.20 C694.56,1338.66 694.97,1337.33 695.35,1335.90 C695.73,1334.47 695.97,1332.96 696.50,1331.60 C697.02,1330.28 697.83,1329.10 698.50,1327.85 C699.17,1326.60 699.60,1324.98 700.50,1324.10 C701.28,1323.34 702.40,1323.13 703.35,1322.65 C704.30,1322.17 705.09,1321.55 706.20,1321.20 C707.58,1320.76 709.47,1320.73 711.10,1320.50 C712.73,1320.27 714.32,1319.97 716.00,1319.80 C717.76,1319.63 719.63,1319.60 721.45,1319.50 C723.27,1319.40 725.30,1319.80 726.90,1319.20 C728.44,1318.63 730.11,1317.32 730.90,1316.10 C731.56,1315.08 731.47,1313.80 731.75,1312.65 C732.03,1311.50 732.31,1310.32 732.60,1309.20 C732.88,1308.12 733.17,1307.10 733.45,1306.05 C733.73,1305.00 734.04,1304.04 734.30,1302.90 C734.61,1301.56 734.87,1299.97 735.15,1298.50 C735.43,1297.03 735.68,1295.66 736.00,1294.10 C736.36,1292.31 736.82,1290.28 737.23,1288.37 C737.64,1286.46 738.06,1284.54 738.47,1282.63 C738.88,1280.72 739.21,1278.68 739.70,1276.90 C740.14,1275.31 740.70,1273.92 741.20,1272.43 C741.70,1270.94 742.20,1269.46 742.70,1267.97 C743.20,1266.48 743.56,1264.89 744.20,1263.50 C744.81,1262.17 745.67,1261.03 746.40,1259.80 C747.13,1258.57 747.66,1257.02 748.60,1256.10 C749.44,1255.28 750.60,1254.97 751.60,1254.40 C752.60,1253.83 753.54,1253.07 754.60,1252.70 C755.65,1252.33 756.83,1252.33 757.95,1252.15 C759.07,1251.97 760.10,1251.70 761.30,1251.60 C762.68,1251.49 764.28,1251.60 765.77,1251.60 C767.26,1251.60 768.74,1251.60 770.23,1251.60 C771.72,1251.60 773.25,1251.94 774.70,1251.60 C776.24,1251.24 778.20,1250.48 779.20,1249.40 C780.10,1248.43 780.20,1246.90 780.70,1245.65 C781.20,1244.40 781.70,1243.28 782.20,1241.90 C782.81,1240.23 783.43,1238.17 784.05,1236.30 C784.67,1234.43 785.26,1232.53 785.90,1230.70 C786.52,1228.93 787.17,1227.23 787.80,1225.50 C788.43,1223.77 789.06,1221.91 789.70,1220.30 C790.27,1218.87 790.86,1217.63 791.43,1216.30 C792.01,1214.97 792.59,1213.63 793.17,1212.30 C793.74,1210.97 794.28,1209.60 794.90,1208.30 C795.51,1207.03 796.21,1205.83 796.87,1204.60 C797.52,1203.37 798.18,1202.13 798.83,1200.90 C799.49,1199.67 800.02,1198.44 800.80,1197.20 C801.65,1195.84 802.80,1194.47 803.80,1193.10 C804.80,1191.73 805.48,1189.99 806.80,1189.00 C808.18,1187.96 810.24,1187.43 812.00,1187.10 C813.70,1186.78 815.45,1187.03 817.17,1187.00 C818.90,1186.97 820.62,1186.93 822.35,1186.90 C824.08,1186.87 825.80,1186.83 827.53,1186.80 C829.25,1186.77 831.19,1187.34 832.70,1186.70 C834.27,1186.03 835.72,1184.01 836.70,1182.70 C837.46,1181.68 837.80,1180.70 838.35,1179.70 C838.90,1178.70 839.36,1177.76 840.00,1176.70 C840.76,1175.45 841.77,1174.03 842.65,1172.70 C843.53,1171.37 844.49,1169.98 845.30,1168.70 C846.03,1167.54 846.63,1166.47 847.30,1165.35 C847.97,1164.23 848.48,1163.10 849.30,1162.00 C850.22,1160.76 851.53,1159.57 852.65,1158.35 C853.77,1157.13 854.94,1155.82 856.00,1154.70 C856.93,1153.72 857.77,1152.90 858.65,1152.00 C859.53,1151.10 860.38,1150.10 861.30,1149.30 C862.17,1148.55 863.10,1147.97 864.00,1147.30 C864.90,1146.63 865.71,1145.80 866.70,1145.30 C867.71,1144.79 868.90,1144.63 870.00,1144.30 C871.10,1143.97 872.08,1143.48 873.30,1143.30 C874.75,1143.09 876.53,1143.30 878.15,1143.30 C879.77,1143.30 881.38,1143.30 883.00,1143.30 C884.62,1143.30 886.23,1143.30 887.85,1143.30 C889.47,1143.30 891.26,1143.77 892.70,1143.30 C894.08,1142.85 895.13,1141.53 896.35,1140.65 C897.57,1139.77 898.81,1138.85 900.00,1138.00 C901.14,1137.19 902.23,1136.43 903.35,1135.65 C904.47,1134.87 905.58,1134.03 906.70,1133.30 C907.79,1132.59 908.90,1131.97 910.00,1131.30 C911.10,1130.63 912.08,1130.00 913.30,1129.30 C914.78,1128.46 916.63,1127.53 918.30,1126.65 C919.97,1125.77 921.62,1124.84 923.30,1124.00 C924.96,1123.17 926.63,1122.43 928.30,1121.65 C929.97,1120.87 931.78,1119.88 933.30,1119.30 C934.51,1118.84 935.53,1118.63 936.65,1118.30 C937.77,1117.97 938.76,1117.48 940.00,1117.30 C941.49,1117.08 943.33,1117.28 945.00,1117.28 C946.67,1117.27 948.33,1117.26 950.00,1117.25 C951.67,1117.24 953.33,1117.23 955.00,1117.22 C956.67,1117.22 958.36,1117.51 960.00,1117.20 C961.70,1116.88 963.33,1115.90 965.00,1115.25 C966.67,1114.60 968.37,1113.86 970.00,1113.30 C971.51,1112.78 972.96,1112.41 974.43,1111.97 C975.91,1111.52 977.39,1111.08 978.87,1110.63 C980.34,1110.19 981.73,1109.69 983.30,1109.30 C985.04,1108.87 987.01,1108.57 988.87,1108.20 C990.72,1107.83 992.58,1107.47 994.43,1107.10 C996.29,1106.73 998.14,1106.28 1000.00,1106.00 C1001.85,1105.72 1003.71,1105.62 1005.57,1105.43 C1007.42,1105.24 1009.28,1105.06 1011.13,1104.87 C1012.99,1104.68 1014.85,1104.47 1016.70,1104.30 C1018.55,1104.13 1020.39,1104.01 1022.23,1103.87 C1024.08,1103.72 1025.92,1103.58 1027.77,1103.43 C1029.61,1103.29 1031.45,1103.08 1033.30,1103.00 C1035.15,1102.92 1037.01,1102.96 1038.87,1102.93 C1040.72,1102.91 1042.58,1102.89 1044.43,1102.87 C1046.29,1102.84 1048.11,1102.81 1050.00,1102.80 C1051.95,1102.79 1053.97,1102.80 1055.95,1102.80 C1057.94,1102.80 1059.92,1102.80 1061.91,1102.80 C1063.89,1102.80 1065.88,1102.80 1067.86,1102.80 C1069.85,1102.80 1071.83,1102.80 1073.82,1102.80 C1075.80,1102.80 1077.79,1102.80 1079.77,1102.80 C1081.76,1102.80 1083.74,1102.80 1085.73,1102.80 C1087.71,1102.80 1089.70,1102.80 1091.68,1102.80 C1093.67,1102.80 1095.65,1102.80 1097.64,1102.80 C1099.62,1102.80 1101.60,1102.80 1103.59,1102.80 C1105.57,1102.80 1107.56,1102.80 1109.54,1102.80 C1111.53,1102.80 1113.51,1102.80 1115.50,1102.80 C1117.48,1102.80 1119.47,1102.80 1121.45,1102.80 C1123.44,1102.80 1125.42,1102.80 1127.41,1102.80 C1129.39,1102.80 1131.38,1102.80 1133.36,1102.80 C1135.35,1102.80 1137.33,1102.80 1139.32,1102.80 C1141.30,1102.80 1143.29,1102.80 1145.27,1102.80 C1147.25,1102.80 1149.24,1102.80 1151.22,1102.80 C1153.21,1102.80 1155.19,1102.80 1157.18,1102.80 C1159.16,1102.80 1161.15,1102.80 1163.13,1102.80 C1165.12,1102.80 1167.10,1102.80 1169.09,1102.80 C1171.07,1102.80 1173.06,1102.80 1175.04,1102.80 C1177.03,1102.80 1179.01,1102.80 1181.00,1102.80 C1182.98,1102.80 1184.97,1102.80 1186.95,1102.80 C1188.94,1102.80 1190.92,1102.80 1192.91,1102.80 C1194.89,1102.80 1196.87,1102.80 1198.86,1102.80 C1200.84,1102.80 1202.83,1102.80 1204.81,1102.80 C1206.80,1102.80 1208.78,1102.80 1210.77,1102.80 C1212.75,1102.80 1214.74,1102.80 1216.72,1102.80 C1218.71,1102.80 1220.69,1102.80 1222.68,1102.80 C1224.66,1102.80 1226.65,1102.80 1228.63,1102.80 C1230.62,1102.80 1232.60,1102.80 1234.59,1102.80 C1236.57,1102.80 1238.56,1102.80 1240.54,1102.80 C1242.53,1102.80 1244.51,1102.80 1246.49,1102.80 C1248.48,1102.80 1250.46,1102.80 1252.45,1102.80 C1254.43,1102.80 1256.42,1102.80 1258.40,1102.80 C1260.39,1102.80 1262.37,1102.80 1264.36,1102.80 C1266.34,1102.80 1268.33,1102.80 1270.31,1102.80 C1272.30,1102.80 1274.28,1102.80 1276.27,1102.80 C1278.25,1102.80 1280.24,1102.80 1282.22,1102.80 C1284.21,1102.80 1286.19,1102.80 1288.18,1102.80 C1290.16,1102.80 1292.15,1102.80 1294.13,1102.80 C1296.11,1102.80 1298.10,1102.80 1300.08,1102.80 C1302.07,1102.80 1304.05,1102.80 1306.04,1102.80 C1308.02,1102.80 1310.01,1102.80 1311.99,1102.80 C1313.98,1102.80 1315.96,1102.80 1317.95,1102.80 C1319.93,1102.80 1321.92,1102.80 1323.90,1102.80 C1325.89,1102.80 1327.87,1102.80 1329.86,1102.80 C1331.84,1102.80 1333.83,1102.80 1335.81,1102.80 C1337.80,1102.80 1339.78,1102.80 1341.76,1102.80 C1343.75,1102.80 1345.73,1102.80 1347.72,1102.80 C1349.70,1102.80 1351.69,1102.80 1353.67,1102.80 C1355.66,1102.80 1357.64,1102.80 1359.63,1102.80 C1361.61,1102.80 1363.60,1102.80 1365.58,1102.80 C1367.57,1102.80 1369.55,1102.80 1371.54,1102.80 C1373.52,1102.80 1375.51,1102.80 1377.49,1102.80 C1379.48,1102.80 1381.46,1102.80 1383.45,1102.80 C1385.43,1102.80 1387.57,1103.21 1389.40,1102.80 C1391.10,1102.42 1392.65,1101.43 1394.10,1100.60 C1395.47,1099.82 1397.03,1099.04 1397.90,1098.00 C1398.65,1097.12 1398.84,1096.00 1399.29,1095.00 C1399.74,1094.00 1400.18,1093.00 1400.62,1092.00 C1401.05,1091.00 1401.47,1090.00 1401.89,1089.00 C1402.30,1088.00 1402.71,1087.00 1403.11,1086.00 C1403.51,1085.00 1403.90,1084.00 1404.28,1083.00 C1404.66,1082.00 1405.04,1081.00 1405.41,1080.00 C1405.78,1079.00 1406.14,1078.00 1406.49,1077.00 C1406.85,1076.00 1407.20,1075.00 1407.55,1074.00 C1407.89,1073.00 1408.23,1072.00 1408.56,1071.00 C1408.90,1070.00 1409.23,1069.00 1409.55,1068.00 C1409.88,1067.00 1410.20,1066.00 1410.52,1065.00 C1410.84,1064.00 1411.15,1063.00 1411.47,1062.00 C1411.78,1061.00 1412.09,1060.00 1412.40,1059.00 C1412.70,1058.00 1413.01,1057.00 1413.31,1056.00 C1413.62,1055.00 1413.92,1054.00 1414.22,1053.00 C1414.53,1052.00 1414.83,1051.00 1415.13,1050.00 C1415.43,1049.00 1415.73,1048.00 1416.03,1047.00 C1416.33,1046.00 1416.63,1045.00 1416.93,1044.00 C1417.23,1043.00 1417.53,1042.00 1417.83,1041.00 C1418.13,1040.00 1418.43,1039.00 1418.73,1038.00 C1419.03,1037.00 1419.33,1036.00 1419.62,1035.00 C1419.92,1034.00 1420.22,1033.00 1420.52,1032.00 C1420.82,1031.00 1421.11,1030.00 1421.41,1029.00 C1421.71,1028.00 1422.00,1027.00 1422.30,1026.00 C1422.60,1025.00 1422.89,1024.00 1423.19,1023.00 C1423.48,1022.00 1423.78,1021.00 1424.08,1020.00 C1424.37,1019.00 1424.67,1018.00 1424.96,1017.00 C1425.26,1016.00 1425.55,1015.00 1425.85,1014.00 C1426.14,1013.00 1426.43,1012.00 1426.73,1011.00 C1427.02,1010.00 1427.32,1009.00 1427.61,1008.00 C1427.90,1007.00 1428.20,1006.00 1428.49,1005.00 C1428.78,1004.00 1429.07,1003.00 1429.37,1002.00 C1429.66,1001.00 1429.95,1000.00 1430.24,999.00 C1430.54,998.00 1430.83,997.00 1431.12,996.00 C1431.41,995.00 1431.70,994.00 1431.99,993.00 C1432.28,992.00 1432.57,991.00 1432.86,990.00 C1433.16,989.00 1433.45,988.00 1433.74,987.00 C1434.03,986.00 1434.32,985.00 1434.61,984.00 C1434.90,983.00 1435.19,982.00 1435.48,981.00 C1435.76,980.00 1436.05,979.00 1436.34,978.00 C1436.63,977.00 1436.92,976.00 1437.21,975.00 C1437.50,974.00 1437.79,973.00 1438.07,972.00 C1438.36,971.00 1438.65,970.00 1438.94,969.00 C1439.23,968.00 1439.51,967.00 1439.80,966.00 C1440.09,965.00 1440.38,964.00 1440.66,963.00 C1440.95,962.00 1441.24,961.00 1441.53,960.00 C1441.81,959.00 1442.10,958.00 1442.39,957.00 C1442.67,956.00 1442.96,955.00 1443.25,954.00 C1443.53,953.00 1443.82,952.00 1444.10,951.00 C1444.39,950.00 1444.68,949.00 1444.96,948.00 C1445.25,947.00 1445.53,946.00 1445.82,945.00 C1446.10,944.00 1446.39,943.00 1446.67,942.00 C1446.96,941.00 1447.24,940.00 1447.53,939.00 C1447.81,938.00 1448.10,937.00 1448.38,936.00 C1448.67,935.00 1448.95,934.00 1449.24,933.00 C1449.52,932.00 1449.81,931.00 1450.09,930.00 C1450.37,929.00 1450.66,928.00 1450.94,927.00 C1451.23,926.00 1451.51,925.00 1451.79,924.00 C1452.08,923.00 1452.36,922.00 1452.64,921.00 C1452.93,920.00 1453.21,919.00 1453.49,918.00 C1453.78,917.00 1454.06,916.00 1454.34,915.00 C1454.63,914.00 1454.91,913.00 1455.19,912.00 C1455.48,911.00 1455.76,910.00 1456.04,909.00 C1456.33,908.00 1456.61,907.00 1456.89,906.00 C1457.17,905.00 1457.46,904.00 1457.74,903.00 C1458.02,902.00 1458.30,901.00 1458.59,900.00 C1458.87,899.00 1459.15,898.00 1459.43,897.00 C1459.72,896.00 1460.00,895.00 1460.28,894.00 C1460.56,893.00 1460.85,892.00 1461.13,891.00 C1461.41,890.00 1461.69,889.00 1461.97,888.00 C1462.26,887.00 1462.54,886.00 1462.82,885.00 C1463.10,884.00 1463.38,883.00 1463.67,882.00 C1463.95,881.00 1464.23,880.00 1464.51,879.00 C1464.79,878.00 1465.08,877.00 1465.36,876.00 C1465.64,875.00 1465.92,874.00 1466.20,873.00 C1466.49,872.00 1466.77,871.00 1467.05,870.00 C1467.33,869.00 1467.61,868.00 1467.90,867.00 C1468.18,866.00 1468.46,865.00 1468.74,864.00 C1469.02,863.00 1469.30,862.00 1469.59,861.00 C1469.87,860.00 1470.15,859.00 1470.43,858.00 C1470.71,857.00 1471.00,856.00 1471.28,855.00 C1471.56,854.00 1471.84,853.00 1472.12,852.00 C1472.41,851.00 1472.69,850.00 1472.97,849.00 C1473.25,848.00 1473.53,847.00 1473.82,846.00 C1474.10,845.00 1474.38,844.00 1474.66,843.00 C1474.94,842.00 1475.23,841.00 1475.51,840.00 C1475.79,839.00 1476.07,838.00 1476.35,837.00 C1476.64,836.00 1476.92,835.00 1477.20,834.00 C1477.48,833.00 1477.77,832.00 1478.05,831.00 C1478.33,830.00 1478.61,829.00 1478.90,828.00 C1479.18,827.00 1479.46,826.00 1479.75,825.00 C1480.03,824.00 1480.31,823.00 1480.59,822.00 C1480.88,821.00 1481.16,820.00 1481.44,819.00 C1481.73,818.00 1482.01,817.00 1482.29,816.00 C1482.58,815.00 1482.86,814.00 1483.14,813.00 C1483.43,812.00 1483.71,811.00 1483.99,810.00 C1484.28,809.00 1484.56,808.00 1484.84,807.00 C1485.13,806.00 1485.41,805.00 1485.70,804.00 C1485.98,803.00 1486.26,802.00 1486.55,801.00 C1486.83,800.00 1487.12,799.00 1487.40,798.00 C1487.69,797.00 1487.97,796.00 1488.26,795.00 C1488.54,794.00 1488.82,793.00 1489.11,792.00 C1489.39,791.00 1489.68,790.00 1489.96,789.00 C1490.25,788.00 1490.53,787.00 1490.82,786.00 C1491.10,785.00 1491.39,784.00 1491.68,783.00 C1491.96,782.00 1492.25,781.00 1492.53,780.00 C1492.82,779.00 1493.10,778.00 1493.39,777.00 C1493.68,776.00 1493.96,775.00 1494.25,774.00 C1494.53,773.00 1494.82,772.00 1495.11,771.00 C1495.39,770.00 1495.68,769.00 1495.96,768.00 C1496.25,767.00 1496.54,766.00 1496.82,765.00 C1497.11,764.00 1497.40,763.00 1497.68,762.00 C1497.97,761.00 1498.26,760.00 1498.54,759.00 C1498.83,758.00 1499.12,757.00 1499.40,756.00 C1499.69,755.00 1499.98,754.00 1500.27,753.00 C1500.55,752.00 1500.84,751.00 1501.13,750.00 C1501.41,749.00 1501.70,748.00 1501.99,747.00 C1502.28,746.00 1502.56,745.00 1502.85,744.00 C1503.14,743.00 1503.43,742.00 1503.72,741.00 C1504.00,740.00 1504.29,739.00 1504.58,738.00 C1504.87,737.00 1505.16,736.00 1505.44,735.00 C1505.73,734.00 1506.02,733.00 1506.31,732.00 C1506.60,731.00 1506.88,730.00 1507.17,729.00 C1507.46,728.00 1507.75,727.00 1508.04,726.00 C1508.33,725.00 1508.62,724.00 1508.90,723.00 C1509.19,722.00 1509.48,721.00 1509.77,720.00 C1510.06,719.00 1510.35,718.00 1510.64,717.00 C1510.93,716.00 1511.22,715.00 1511.50,714.00 C1511.79,713.00 1512.08,712.00 1512.37,711.00 C1512.66,710.00 1512.95,709.00 1513.24,708.00 C1513.53,707.00 1513.82,706.00 1514.11,705.00 C1514.40,704.00 1514.69,703.00 1514.98,702.00 C1515.27,701.00 1515.56,700.00 1515.85,699.00 C1516.14,698.00 1516.42,697.00 1516.71,696.00 C1517.00,695.00 1517.29,694.00 1517.58,693.00 C1517.87,692.00 1518.16,691.00 1518.45,690.00 C1518.74,689.00 1519.03,688.00 1519.32,687.00 C1519.61,686.00 1519.90,685.00 1520.20,684.00 C1520.49,683.00 1520.78,682.00 1521.07,681.00 C1521.36,680.00 1521.65,679.00 1521.94,678.00 C1522.23,677.00 1522.52,676.00 1522.81,675.00 C1523.10,674.00 1523.39,673.00 1523.68,672.00 C1523.97,671.00 1524.26,670.00 1524.55,669.00 C1524.84,668.00 1525.13,667.00 1525.42,666.00 C1525.72,665.00 1526.01,664.00 1526.30,663.00 C1526.59,662.00 1526.88,661.00 1527.17,660.00 C1527.46,659.00 1527.75,658.00 1528.04,657.00 C1528.33,656.00 1528.63,655.00 1528.92,654.00 C1529.21,653.00 1529.50,652.00 1529.79,651.00 C1530.08,650.00 1530.37,649.00 1530.66,648.00 C1530.95,647.00 1531.25,646.00 1531.54,645.00 C1531.83,644.00 1532.12,643.00 1532.41,642.00 C1532.70,641.00 1532.99,640.00 1533.29,639.00 C1533.58,638.00 1533.87,637.00 1534.16,636.00 C1534.45,635.00 1534.74,634.00 1535.03,633.00 C1535.33,632.00 1535.62,631.00 1535.91,630.00 C1536.20,629.00 1536.49,628.00 1536.78,627.00 C1537.08,626.00 1537.37,625.00 1537.66,624.00 C1537.95,623.00 1538.24,622.00 1538.53,621.00 C1538.83,620.00 1539.12,619.00 1539.41,618.00 C1539.70,617.00 1539.99,616.00 1540.29,615.00 C1540.58,614.00 1540.87,613.00 1541.16,612.00 C1541.45,611.00 1541.75,610.00 1542.04,609.00 C1542.33,608.00 1542.62,607.00 1542.91,606.00 C1543.20,605.00 1543.50,604.00 1543.79,603.00 C1544.08,602.00 1544.37,601.00 1544.66,600.00 C1544.96,599.00 1545.25,598.00 1545.54,597.00 C1545.83,596.00 1546.13,595.00 1546.42,594.00 C1546.71,593.00 1547.00,592.00 1547.29,591.00 C1547.59,590.00 1547.88,589.00 1548.17,588.00 C1548.46,587.00 1548.75,586.00 1549.05,585.00 C1549.34,584.00 1549.63,583.00 1549.92,582.00 C1550.21,581.00 1550.51,580.00 1550.80,579.00 C1551.09,578.00 1551.38,577.00 1551.68,576.00 C1551.97,575.00 1552.26,574.00 1552.55,573.00 C1552.84,572.00 1553.14,571.00 1553.43,570.00 C1553.72,569.00 1554.01,568.00 1554.30,567.00 C1554.60,566.00 1554.89,565.00 1555.18,564.00 C1555.47,563.00 1555.77,562.00 1556.06,561.00 C1556.35,560.00 1556.64,559.00 1556.93,558.00 C1557.23,557.00 1557.52,556.00 1557.81,555.00 C1558.10,554.00 1558.39,553.00 1558.69,552.00 C1558.98,551.00 1559.27,550.00 1559.56,549.00 C1559.85,548.00 1560.15,547.00 1560.44,546.00 C1560.73,545.00 1561.02,544.00 1561.32,543.00 C1561.61,542.00 1561.90,541.00 1562.19,540.00 C1562.48,539.00 1562.78,538.00 1563.07,537.00 C1563.36,536.00 1563.65,535.00 1563.94,534.00 C1564.23,533.00 1564.53,532.00 1564.82,531.00 C1565.11,530.00 1565.40,529.00 1565.69,528.00 C1565.99,527.00 1566.28,526.00 1566.57,525.00 C1566.86,524.00 1567.15,523.00 1567.45,522.00 C1567.74,521.00 1568.03,520.00 1568.32,519.00 C1568.61,518.00 1568.90,517.00 1569.20,516.00 C1569.49,515.00 1569.78,514.00 1570.07,513.00 C1570.36,512.00 1570.65,511.00 1570.95,510.00 C1571.24,509.00 1571.53,508.00 1571.82,507.00 C1572.11,506.00 1572.40,505.00 1572.70,504.00 C1572.99,503.00 1573.28,502.00 1573.57,501.00 C1573.86,500.00 1574.15,499.00 1574.44,498.00 C1574.73,497.00 1575.03,496.00 1575.32,495.00 C1575.61,494.00 1575.90,493.00 1576.19,492.00 C1576.48,491.00 1576.77,490.00 1577.06,489.00 C1577.36,488.00 1577.65,487.00 1577.94,486.00 C1578.23,485.00 1578.52,484.00 1578.81,483.00 C1579.10,482.00 1579.39,481.00 1579.68,480.00 C1579.98,479.00 1580.27,478.00 1580.56,477.00 C1580.85,476.00 1581.14,475.00 1581.43,474.00 C1581.72,473.00 1582.01,472.00 1582.30,471.00 C1582.59,470.00 1582.88,469.00 1583.17,468.00 C1583.46,467.00 1583.75,466.00 1584.04,465.00 C1584.34,464.00 1584.63,463.00 1584.92,462.00 C1585.21,461.00 1585.50,460.00 1585.79,459.00 C1586.08,458.00 1586.37,457.00 1586.66,456.00 C1586.95,455.00 1587.24,454.00 1587.53,453.00 C1587.82,452.00 1588.11,451.00 1588.40,450.00 C1588.69,449.00 1588.98,448.00 1589.27,447.00 C1589.56,446.00 1589.85,445.00 1590.14,444.00 C1590.43,443.00 1590.72,442.00 1591.01,441.00 C1591.30,440.00 1591.59,439.00 1591.87,438.00 C1592.16,437.00 1592.45,436.00 1592.74,435.00 C1593.03,434.00 1593.32,433.00 1593.61,432.00 C1593.90,431.00 1594.19,430.00 1594.48,429.00 C1594.77,428.00 1595.06,427.00 1595.35,426.00 C1595.63,425.00 1595.92,424.00 1596.21,423.00 C1596.50,422.00 1596.79,421.00 1597.08,420.00 C1597.37,419.00 1597.66,418.00 1597.95,417.00 C1598.23,416.00 1598.52,415.00 1598.81,414.00 C1599.10,413.00 1599.39,412.00 1599.68,411.00 C1599.96,410.00 1600.25,409.00 1600.54,408.00 C1600.83,407.00 1601.12,406.00 1601.41,405.00 C1601.69,404.00 1601.98,403.00 1602.27,402.00 C1602.56,401.00 1602.84,400.00 1603.13,399.00 C1603.42,398.00 1603.71,397.00 1604.00,396.00 C1604.28,395.00 1604.57,394.00 1604.86,393.00 C1605.15,392.00 1605.43,391.00 1605.72,390.00 C1606.01,389.00 1606.29,388.00 1606.58,387.00 C1606.87,386.00 1607.16,385.00 1607.44,384.00 C1607.73,383.00 1608.02,382.00 1608.30,381.00 C1608.59,380.00 1608.88,379.00 1609.16,378.00 C1609.45,377.00 1609.74,376.00 1610.02,375.00 C1610.31,374.00 1610.60,373.00 1610.88,372.00 C1611.17,371.00 1611.45,370.00 1611.74,369.00 C1612.03,368.00 1612.31,367.00 1612.60,366.00 C1612.88,365.00 1613.17,364.00 1613.45,363.00 C1613.74,362.00 1614.03,361.00 1614.31,360.00 C1614.60,359.00 1614.88,358.00 1615.17,357.00 C1615.45,356.00 1615.74,355.00 1616.02,354.00 C1616.31,353.00 1616.59,352.00 1616.88,351.00 C1617.16,350.00 1617.45,349.00 1617.73,348.00 C1618.02,347.00 1618.30,346.00 1618.59,345.00 C1618.87,344.00 1619.16,343.00 1619.44,342.00 C1619.72,341.00 1620.01,340.00 1620.29,339.00 C1620.58,338.00 1620.86,337.00 1621.14,336.00 C1621.43,335.00 1621.71,334.00 1622.00,333.00 C1622.28,332.00 1622.56,331.00 1622.85,330.00 C1623.13,329.00 1623.41,328.00 1623.70,327.00 C1623.98,326.00 1624.26,325.00 1624.55,324.00 C1624.83,323.00 1625.11,322.00 1625.40,321.00 C1625.68,320.00 1625.96,319.00 1626.24,318.00 C1626.53,317.00 1626.81,316.00 1627.09,315.00 C1627.37,314.00 1627.66,313.00 1627.94,312.00 C1628.22,311.00 1628.50,310.00 1628.78,309.00 C1629.07,308.00 1629.35,307.00 1629.63,306.00 C1629.91,305.00 1630.19,304.00 1630.47,303.00 C1630.75,302.00 1631.04,301.00 1631.32,300.00 C1631.60,299.00 1631.88,298.00 1632.16,297.00 C1632.44,296.00 1632.72,295.00 1633.00,294.00 C1633.28,293.00 1633.56,292.00 1633.84,291.00 C1634.12,290.00 1634.41,289.00 1634.69,288.00 C1634.97,287.00 1635.25,286.00 1635.53,285.00 C1635.81,284.00 1636.09,283.00 1636.36,282.00 C1636.64,281.00 1636.92,280.00 1637.20,279.00 C1637.48,278.00 1637.76,277.00 1638.04,276.00 C1638.32,275.00 1638.60,274.00 1638.88,273.00 C1639.16,272.00 1639.44,271.00 1639.71,270.00 C1639.99,269.00 1640.27,268.00 1640.55,267.00 C1640.83,266.00 1641.11,265.00 1641.38,264.00 C1641.66,263.00 1641.94,262.00 1642.22,261.00 C1642.50,260.00 1642.77,259.00 1643.05,258.00 C1643.33,257.00 1643.61,256.00 1643.88,255.00 C1644.16,254.00 1644.47,252.90 1644.71,252.00 C1644.92,251.27 1644.99,250.76 1645.27,250.00 C1645.67,248.91 1646.48,247.42 1647.08,246.13 C1647.68,244.84 1648.29,243.56 1648.89,242.27 C1649.49,240.98 1650.03,239.64 1650.70,238.40 C1651.37,237.17 1652.17,236.03 1652.90,234.85 C1653.63,233.67 1654.23,232.28 1655.10,231.30 C1655.89,230.41 1656.90,229.87 1657.80,229.15 C1658.70,228.43 1659.47,227.55 1660.50,227.00 C1661.61,226.41 1663.03,226.20 1664.30,225.80 C1665.57,225.40 1666.79,224.85 1668.10,224.60 C1669.43,224.35 1670.83,224.40 1672.20,224.30 C1673.57,224.20 1674.80,224.05 1676.30,224.00 C1678.11,223.93 1680.30,224.00 1682.30,224.00 C1684.30,224.00 1686.30,224.00 1688.30,224.00 C1690.30,224.00 1692.30,224.00 1694.30,224.00 C1696.30,224.00 1698.29,223.99 1700.29,223.99 C1702.29,223.99 1704.29,223.99 1706.29,223.99 C1708.29,223.99 1710.29,223.99 1712.29,223.99 C1714.29,223.99 1716.29,223.99 1718.29,223.99 C1720.29,223.99 1722.29,223.99 1724.29,223.99 C1726.29,223.99 1728.29,223.99 1730.29,223.99 C1732.29,223.99 1734.29,223.99 1736.29,223.99 C1738.29,223.99 1740.28,223.98 1742.28,223.98 C1744.28,223.98 1746.28,223.98 1748.28,223.98 C1750.28,223.98 1752.28,223.98 1754.28,223.98 C1756.28,223.98 1758.28,223.98 1760.28,223.98 C1762.28,223.98 1764.28,223.98 1766.28,223.98 C1768.28,223.98 1770.28,223.98 1772.28,223.98 C1774.28,223.98 1776.28,223.98 1778.28,223.98 C1780.27,223.97 1782.27,223.97 1784.27,223.97 C1786.27,223.97 1788.27,223.97 1790.27,223.97 C1792.27,223.97 1794.27,223.97 1796.27,223.97 C1798.27,223.97 1800.27,223.97 1802.27,223.97 C1804.27,223.97 1806.27,223.97 1808.27,223.97 C1810.27,223.97 1812.27,223.97 1814.27,223.97 C1816.27,223.97 1818.27,223.97 1820.27,223.97 C1822.26,223.96 1824.26,223.96 1826.26,223.96 C1828.26,223.96 1830.26,223.96 1832.26,223.96 C1834.26,223.96 1836.26,223.96 1838.26,223.96 C1840.26,223.96 1842.26,223.96 1844.26,223.96 C1846.26,223.96 1848.26,223.96 1850.26,223.96 C1852.26,223.96 1854.26,223.96 1856.26,223.96 C1858.26,223.96 1860.26,223.96 1862.26,223.96 C1864.25,223.95 1866.25,223.95 1868.25,223.95 C1870.25,223.95 1872.25,223.95 1874.25,223.95 C1876.25,223.95 1878.25,223.95 1880.25,223.95 C1882.25,223.95 1884.25,223.95 1886.25,223.95 C1888.25,223.95 1890.25,223.95 1892.25,223.95 C1894.25,223.95 1896.25,223.95 1898.25,223.95 C1900.25,223.95 1902.25,223.95 1904.24,223.94 C1906.24,223.94 1908.24,223.94 1910.24,223.94 C1912.24,223.94 1914.24,223.94 1916.24,223.94 C1918.24,223.94 1920.24,223.94 1922.24,223.94 C1924.24,223.94 1926.24,223.94 1928.24,223.94 C1930.24,223.94 1932.24,223.94 1934.24,223.94 C1936.24,223.94 1938.24,223.94 1940.24,223.94 C1942.24,223.94 1944.24,223.94 1946.23,223.93 C1948.23,223.93 1950.23,223.93 1952.23,223.93 C1954.23,223.93 1956.23,223.93 1958.23,223.93 C1960.23,223.93 1962.23,223.93 1964.23,223.93 C1966.23,223.93 1968.23,223.93 1970.23,223.93 C1972.23,223.93 1974.23,223.93 1976.23,223.93 C1978.23,223.93 1980.23,223.93 1982.23,223.93 C1984.23,223.93 1986.23,223.93 1988.22,223.92 C1990.22,223.92 1992.22,223.92 1994.22,223.92 C1996.22,223.92 1998.22,223.92 2000.22,223.92 C2002.22,223.92 2004.22,223.92 2006.22,223.92 C2008.22,223.92 2010.22,223.92 2012.22,223.92 C2014.22,223.92 2016.22,223.92 2018.22,223.92 C2020.22,223.92 2022.22,223.92 2024.22,223.92 C2026.22,223.92 2028.21,223.91 2030.21,223.91 C2032.21,223.91 2034.21,223.91 2036.21,223.91 C2038.21,223.91 2040.21,223.91 2042.21,223.91 C2044.21,223.91 2046.21,223.91 2048.21,223.91 C2050.21,223.91 2052.21,223.91 2054.21,223.91 C2056.21,223.91 2058.21,223.91 2060.21,223.91 C2062.21,223.91 2064.21,223.91 2066.21,223.91 C2068.21,223.91 2070.20,223.90 2072.20,223.90 C2074.20,223.90 2076.20,223.90 2078.20,223.90 C2080.20,223.90 2082.20,223.90 2084.20,223.90 C2086.20,223.90 2088.20,223.90 2090.20,223.90" stroke="#cc0505" stroke-width="7" fill="none" stroke-linejoin="round" stroke-linecap="round"/>
<rect x="365.2" y="83.0" width="835.6" height="277.1" fill="#fff" stroke="#000" stroke-width="1.8"/>
<path d="M373.6,132.5H535.8" stroke="#0019c2" stroke-width="7" stroke-linecap="round"/>
<path d="M373.6,221.8H535.8" stroke="#000" stroke-width="7" stroke-linecap="round"/>
<path d="M373.6,311.5H535.8" stroke="#cc0505" stroke-width="7" stroke-linecap="round"/>
<g font-family="'Liberation Serif', 'DejaVu Serif', serif" fill="#000"><text id="lg0_0" x="550.9" y="155.0" font-size="64" textLength="347.7" lengthAdjust="spacingAndGlyphs">Temperature</text><text id="lg0_1" x="913.9" y="155.0" font-size="64" textLength="163.2" lengthAdjust="spacingAndGlyphs">center</text><text id="lg0_2" x="1093.8" y="155.0" font-size="64" textLength="100.3" lengthAdjust="spacingAndGlyphs">vial</text><text id="lg1_0" x="548.5" y="244.9" font-size="64" textLength="136.7" lengthAdjust="spacingAndGlyphs">Shelf</text><text id="lg1_1" x="699.7" y="244.9" font-size="64" textLength="331.0" lengthAdjust="spacingAndGlyphs">temperature</text><text id="lg2_0" x="550.9" y="335.1" font-size="64" textLength="347.7" lengthAdjust="spacingAndGlyphs">Temperature</text><text id="lg2_1" x="912.0" y="335.1" font-size="64" textLength="130.1" lengthAdjust="spacingAndGlyphs">edge</text><text id="lg2_2" x="1057.8" y="335.1" font-size="64" textLength="100.3" lengthAdjust="spacingAndGlyphs">vial</text></g>
</svg>
</body></html>
